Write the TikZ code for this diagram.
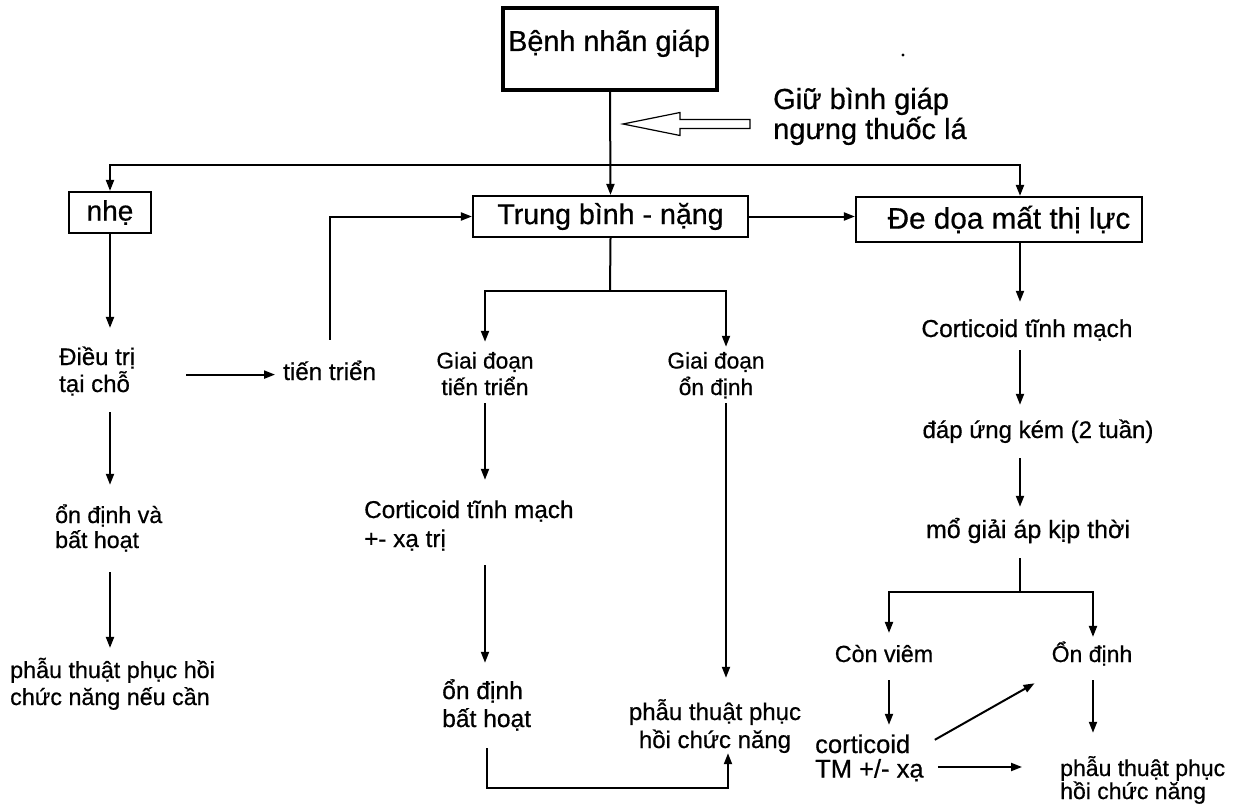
\documentclass[tikz,border=0pt]{standalone}
\usepackage{fontspec}
\setmainfont{Liberation Sans}[FakeBold=0.6]
\usetikzlibrary{arrows.meta,calc}
\newcommand\fs[2]{\fontsize{#1}{#2}\selectfont}
\newcommand\twoL[2]{\vtop{\lineskiplimit=-\maxdimen\halign{\strut##\hfil\cr\smash{#1}\cr\smash{#2}\cr}}}
\newcommand\twoC[2]{\vtop{\lineskiplimit=-\maxdimen\halign{\hfil\strut##\hfil\cr\smash{#1}\cr\smash{#2}\cr}}}
\newcommand\oneL[1]{\strut\smash{#1}}
\begin{document}
\begin{tikzpicture}[x=1pt,y=-1pt,
  ln/.style={line width=2pt},
  arr/.style={line width=2pt,-{Triangle[length=11pt,width=8pt]}},
  box/.style={draw,line width=2.2pt,inner sep=0pt},
  tx/.style={inner sep=0pt}]
\fill[white] (0,0) rectangle (1238,805);
\useasboundingbox (0,0) rectangle (1238,805);

% top
\node[draw,line width=3.5pt,minimum width=214pt,minimum height=82pt,inner sep=0pt] (top) at (610,49) {};
\node[tx,anchor=base west,font=\fs{28.8}{32}] (toptxt) at (508,51) {Bệnh nhãn giáp};
\node[tx,anchor=base west,font=\fs{29}{30}] (giu) at (773,109) {\twoL{Giữ bình giáp}{ngưng thuốc lá}};
\draw[line width=1.2pt,fill=white] (623,124) -- (680,112.5) -- (680,119.5) -- (750,119.5) -- (750,128.5) -- (680,128.5) -- (680,135.5) -- cycle;
\fill (903,55) circle (1.6pt);

% level boxes
\node[box,minimum width=82pt,minimum height=41pt,font=\fs{28}{30}] (nhe) at (110,212.5) {nhẹ};
\node[box,minimum width=275pt,minimum height=41pt,font=\fs{28.6}{30}] (tb) at (610.5,216.5) {Trung bình - nặng};
\node[box,minimum width=286pt,minimum height=45pt,font=\fs{29.7}{32}] (de) at (999,219.5) {\hspace{20pt}Đe dọa mất thị lực};

\coordinate (s1) at (610,165);
\coordinate (s2) at (610,291);
\coordinate (s3) at (1020,592);
\coordinate (rx) at (1020,0);
\coordinate (bl) at (0,788);

\draw[arr] (top.south) -- (tb.north);
\draw[arr] (s1) -| (nhe.north);
\draw[arr] (s1) -| (rx |- de.north);
\draw[arr] (tb.east) -- (tb.east -| de.west);

% left column
\node[tx,anchor=base west,font=\fs{24}{27}] (dt) at (59,365) {\twoL{Điều trị}{tại chỗ}};
\node[tx,anchor=base west,font=\fs{24.2}{27}] (tt) at (283,380) {\oneL{tiến triển}};
\node[tx,anchor=base west,font=\fs{23.2}{25}] (odva) at (55,523) {\twoL{ổn định và}{bất hoạt}};
\node[tx,anchor=base west,font=\fs{23.3}{27}] (ptl) at (10,678) {\twoL{phẫu thuật phục hồi}{chức năng nếu cần}};

\draw[arr,shorten >=18pt] (nhe.south) -- (nhe.south |- dt.north);
\draw[arr,shorten <=12pt,shorten >=20.5pt] (nhe.south |- dt.south) -- (nhe.south |- odva.north);
\draw[arr,shorten <=16.5pt,shorten >=11pt] (nhe.south |- odva.south) -- (nhe.south |- ptl.north);
\draw[arr,shorten <=51pt,shorten >=8pt] (dt.east |- tt.west) -- (tt.west);
\draw[arr,shorten <=21pt] (tt.north) |- (tb.west);

% middle column
\draw[ln] (tb.south) -- (s2);
\node[tx,anchor=base,font=\fs{22.7}{26.5}] (gdtt) at (485,368.5) {\twoC{Giai đoạn}{tiến triển}};
\node[tx,anchor=base,font=\fs{22.7}{26.5}] (gdod) at (716,368.5) {\twoC{Giai đoạn}{ổn định}};
\draw[arr,shorten >=8pt] (s2) -| (gdtt.north);
\draw[arr,shorten >=3pt] (s2) -| ([xshift=10pt]gdod.north);
\node[tx,anchor=base west,font=\fs{24.3}{29}] (ctm) at (364,518) {\twoL{Corticoid tĩnh mạch}{+- xạ trị}};
\draw[arr,shorten >=17.7pt] (gdtt.south) -- (gdtt.south |- ctm.north);
\node[tx,anchor=base west,font=\fs{24.6}{28}] (odbh) at (442,699) {\twoL{ổn định}{bất hoạt}};
\draw[arr,shorten <=9.3pt,shorten >=16.4pt] (gdtt.south |- ctm.south) -- (gdtt.south |- odbh.north);
\node[tx,anchor=base,font=\fs{24}{28}] (ptm) at (715,720) {\twoC{phẫu thuật phục}{hồi chức năng}};
\draw[arr,shorten >=22.4pt] ([xshift=10pt]gdod.south) -- ([xshift=10pt]gdod.south |- ptm.north);
\draw[arr,shorten <=12.6pt] (odbh.south) -- (odbh.south |- bl) -| ([xshift=13pt,yshift=3.4pt]ptm.south);

% right column
\node[tx,anchor=base,font=\fs{24.5}{28}] (rc1) at (1027,337) {\oneL{Corticoid tĩnh mạch}};
\node[tx,anchor=base,font=\fs{24}{28}] (rc2) at (1038,438) {\oneL{đáp ứng kém (2 tuần)}};
\node[tx,anchor=base,font=\fs{25}{28}] (rc3) at (1028,538) {\oneL{mổ giải áp kịp thời}};
\draw[arr,shorten >=15.4pt] (rx |- de.south) -- (rx |- rc1.north);
\draw[arr,shorten <=4.6pt,shorten >=13.4pt] (rx |- rc1.south) -- (rx |- rc2.north);
\draw[arr,shorten <=11.6pt,shorten >=11.4pt] (rx |- rc2.south) -- (rx |- rc3.north);
\draw[ln,shorten <=11.6pt] (rx |- rc3.south) -- (s3);
\node[tx,anchor=base,font=\fs{23.3}{27}] (cv) at (884,662) {\oneL{Còn viêm}};
\node[tx,anchor=base,font=\fs{23}{27}] (od) at (1092,662) {\oneL{Ổn định}};
\draw[arr,shorten >=10pt] (s3) -| ([xshift=5pt]cv.north);
\draw[arr,shorten >=6pt] (s3) -| ([xshift=1pt]od.north);
\node[tx,anchor=base west,font=\fs{25.5}{24.5}] (ctr) at (815,753) {\twoL{corticoid}{TM +/- xạ}};
\node[tx,anchor=base west,font=\fs{23}{23}] (ptr) at (1060,776) {\twoL{phẫu thuật phục}{hồi chức năng}};
\draw[arr,shorten <=10pt,shorten >=10.85pt] ([xshift=5pt]cv.south) -- ([xshift=5pt]cv.south |- ctr.north);
\draw[arr,shorten <=10pt,shorten >=26.9pt] ([xshift=1pt]od.south) -- ([xshift=1pt]od.south |- ptr.north);
\draw[arr] ([xshift=11pt,yshift=-4.15pt]ctr.north east) -- ([xshift=-17pt,yshift=-13pt]od.south west);
\draw[arr,shorten >=38pt] ([xshift=14pt,yshift=-6.65pt]ctr.east) -- ([yshift=-6.65pt]ctr.east -| ptr.west);
\end{tikzpicture}
\end{document}
